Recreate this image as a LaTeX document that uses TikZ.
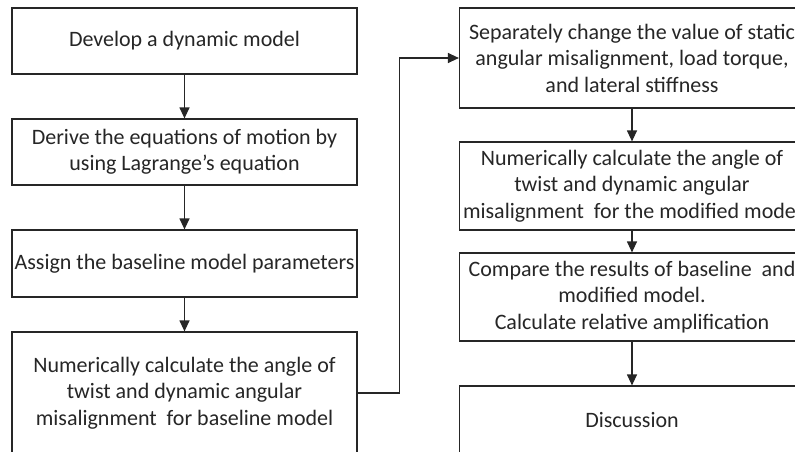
\documentclass[tikz,border=0pt]{standalone}
\usepackage{fontspec}
\setmainfont{Carlito}
\usetikzlibrary{arrows.meta}

\begin{document}
\begin{tikzpicture}[x=1pt,y=-1pt]
\tikzstyle{box}=[draw=black!85,line width=1.2pt,rectangle,minimum width=345pt,align=center,inner sep=0pt,text=black!85,font=\fontsize{22}{26.5}\selectfont]
\tikzstyle{flow}=[draw=black!85,line width=1.2pt,-{Triangle[length=11pt,width=10pt]}]
\useasboundingbox (0,0) rectangle (795,452);
\clip (0,0) rectangle (795,452);
\fill[white] (0,0) rectangle (795,452);
% left column
\node[box,minimum height=66pt] (L1) at (184.5,41) {Develop a dynamic model};
\node[box,minimum height=66pt] (L2) at (184.5,152) {Derive the equations of motion by\\using Lagrange’s equation};
\node[box,minimum height=67pt] (L3) at (184.5,263.5) {Assign the baseline model parameters};
\node[box,minimum height=122pt] (L4) at (184.5,393) {Numerically calculate the angle of\\twist and dynamic angular\\misalignment\ \ for baseline model};
% right column
\node[box,minimum height=100pt] (R1) at (632,58) {Separately change the value of static\\angular misalignment, load torque,\\and lateral stiffness};
\node[box,minimum height=88pt] (R2) at (632,186) {Numerically calculate the angle of\\twist and dynamic angular\\misalignment\ \ for the modified model};
\node[box,minimum height=88pt] (R3) at (632,297) {Compare the results of baseline\ \ and\\modified model.\\Calculate relative amplification};
\node[box,minimum height=68pt] (R4) at (632,420) {Discussion};
\foreach \a/\b in {L1/L2,L2/L3,L3/L4,R1/R2,R2/R3,R3/R4}
	\draw[flow] (\a) -- (\b);
\draw[flow] (L4.east) -- ++(42,0) |- (R1.west);
\end{tikzpicture}
\end{document}
